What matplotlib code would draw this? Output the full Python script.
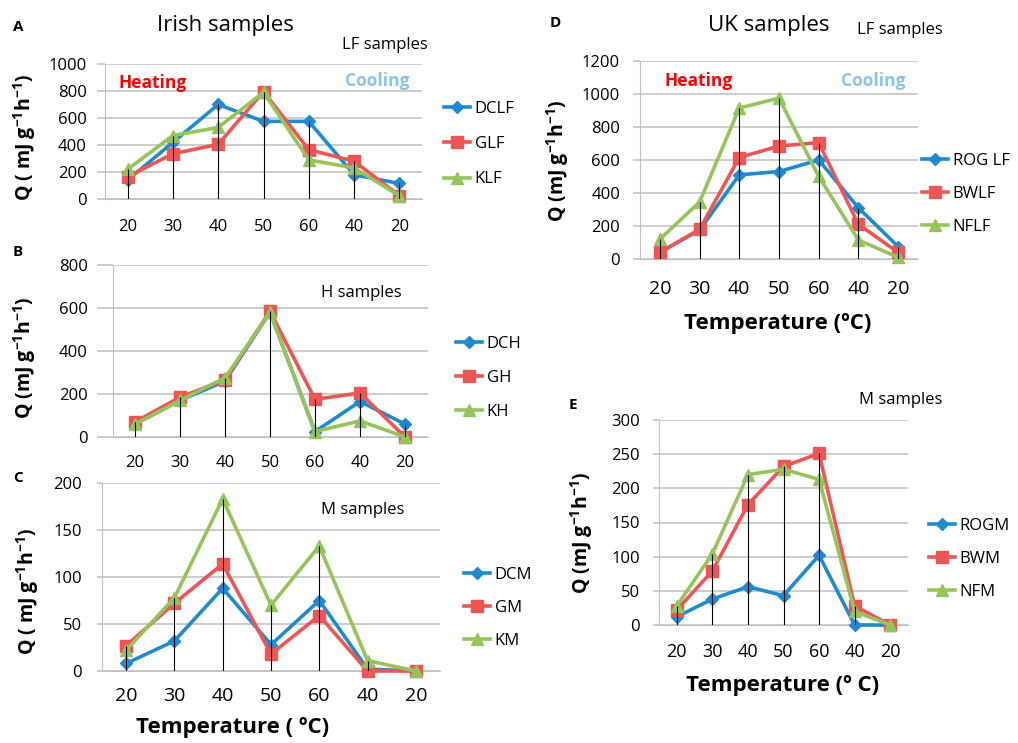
import numpy as np
import matplotlib
matplotlib.use("Agg")
import matplotlib.pyplot as plt

plt.rcParams['font.family'] = ['Open Sans', 'DejaVu Sans']
plt.rcParams['mathtext.fontset'] = 'custom'
plt.rcParams['mathtext.rm'] = 'Open Sans'
plt.rcParams['mathtext.bf'] = 'Open Sans:bold'

# x categories (heating 20->60, cooling back to 20)
temps = ['20', '30', '40', '50', '60', '40', '20']

# A: Irish LF samples
irish_lf_names = ['DCLF', 'GLF', 'KLF']
dclf = [140, 420, 700, 575, 575, 180, 115]
glf = [165, 335, 405, 795, 365, 280, 25]
klf = [220, 470, 530, 790, 290, 230, 25]

# B: Irish H samples
irish_h_names = ['DCH', 'GH', 'KH']
dch = [60, 170, 260, 580, 25, 165, 60]
gh = [70, 185, 265, 585, 175, 205, 0]
kh = [60, 170, 275, 580, 25, 75, 0]

# C: Irish M samples
irish_m_names = ['DCM', 'GM', 'KM']
dcm = [8, 32, 88, 28, 75, 2, 0]
gm = [27, 72, 114, 18, 59, 0, 0]
km = [22, 78, 183, 70, 133, 11, 0]

# D: UK LF samples
uk_lf_names = ['ROG LF', 'BWLF', 'NFLF']
rog_lf = [40, 175, 510, 530, 600, 310, 75]
bwlf = [40, 180, 615, 685, 705, 210, 40]
nflf = [120, 345, 915, 975, 500, 115, 10]

# E: UK M samples
uk_m_names = ['ROGM', 'BWM', 'NFM']
rogm = [12, 38, 56, 43, 102, 0, 0]
bwm = [22, 79, 176, 232, 251, 28, 0]
nfm = [28, 104, 220, 228, 213, 20, 0]

colors = ['#1f8bcf', '#ee5656', '#96c45a']
markers = ['D', 's', '^']
msizes = [6, 9, 9]
grid_col = '#bfbfbf'

W, H = 1018, 743
fig = plt.figure(figsize=(W / 100, H / 100), dpi=100)


def fx(x):
    return x / W


def fy(y):
    return 1 - y / H


def panel(box, series, names, ymax, ystep, tick_len, ypad, xsize, xpad,
          leg_x, leg_y, leg_space, ylabel, ylab_xy):
    x0, y0, x1, y1 = box
    ax = fig.add_axes([fx(x0), fy(y1), (x1 - x0) / W, (y1 - y0) / H])
    x = np.arange(len(temps))
    for vals, name, c, m, ms in zip(series, names, colors, markers, msizes):
        ax.plot(x, vals, color=c, lw=2.6, marker=m, ms=ms, label=name,
                zorder=3, clip_on=False)
    # drop lines from the highest point down to the axis
    top = np.max(np.array(series), axis=0)
    ax.vlines(x, 0, top, color='black', lw=0.8, zorder=5)
    ax.set_xlim(-0.5, len(temps) - 0.5)
    ax.set_ylim(0, ymax)
    ax.set_yticks(np.arange(0, ymax + 1, ystep))
    ax.set_xticks(x)
    ax.set_xticklabels(temps)
    ax.grid(axis='y', color=grid_col, lw=1.1)
    ax.set_axisbelow(True)
    for s in ['top', 'right']:
        ax.spines[s].set_visible(False)
    ax.spines['left'].set_color(grid_col)
    ax.spines['bottom'].set_color(grid_col)
    ax.tick_params(axis='y', length=tick_len * 0.72, color=grid_col,
                   width=1.1, pad=ypad * 0.72, labelsize=12)
    ax.tick_params(axis='x', length=0, pad=xpad * 0.72, labelsize=xsize)
    fs = 12
    ax.legend(loc='center left', bbox_to_anchor=(fx(leg_x), fy(leg_y)),
              bbox_transform=fig.transFigure, frameon=False, fontsize=fs,
              handlelength=1.55, handletextpad=0.3, borderpad=0,
              borderaxespad=0, labelspacing=(leg_space - fs / 0.72) / (fs / 0.72))
    ax.set_ylabel(ylabel, fontsize=14, fontweight='bold', va='center')
    ax.yaxis.set_label_coords(fx(ylab_xy[0]), fy(ylab_xy[1]),
                              transform=fig.transFigure)
    return ax


ax_a = panel((105, 64, 422, 199), [dclf, glf, klf], irish_lf_names, 1000, 200,
             8, 10, 12, 20, 444, 144, 36,
             r'Q ( mJ g$^{\mathbf{-1}}$h$^{\mathbf{-1}}$)', (25, 137))
ax_b = panel((112.5, 265, 427.5, 437), [dch, gh, kh], irish_h_names, 800, 200,
             16, 9, 12, 18, 456, 378, 35,
             r'Q (mJ g$^{\mathbf{-1}}$h$^{\mathbf{-1}}$)', (25, 358))
ax_c = panel((102, 483, 440, 671), [dcm, gm, km], irish_m_names, 200, 50,
             5, 15, 14, 16, 464, 608, 34,
             r'Q ( mJ g$^{\mathbf{-1}}$h$^{\mathbf{-1}}$)', (28, 591))
ax_d = panel((640, 61, 918, 259), [rog_lf, bwlf, nflf], uk_lf_names, 1200, 200,
             7, 13, 14, 21, 922, 194, 34,
             r'Q (mJ g$^{\mathbf{-1}}$h$^{\mathbf{-1}}$)', (558, 161))
ax_e = panel((659, 420, 908, 625), [rogm, bwm, nfm], uk_m_names, 300, 50,
             6, 13, 13, 18, 929, 559, 33.5,
             r'Q (mJ g$^{\mathbf{-1}}$h$^{\mathbf{-1}}$)', (582, 533))

ax_c.set_xlabel('Temperature ( ºC)', fontsize=16, fontweight='bold')
ax_c.xaxis.set_label_coords(fx(233), fy(728), transform=fig.transFigure)
ax_d.set_xlabel('Temperature (ºC)', fontsize=16, fontweight='bold')
ax_d.xaxis.set_label_coords(fx(778), fy(323), transform=fig.transFigure)
ax_e.set_xlabel('Temperature (º C)', fontsize=16, fontweight='bold')
ax_e.xaxis.set_label_coords(fx(783), fy(685), transform=fig.transFigure)
for a in (ax_c, ax_d, ax_e):
    a.xaxis.label.set_va('center')


def label(x, y, s, **kw):
    fig.text(fx(x), fy(y), s, ha='center', va='center', **kw)


label(225, 25, 'Irish samples', fontsize=16)
label(769, 25, 'UK samples', fontsize=16)
for x, y, s in [(18, 27, 'A'), (18, 252, 'B'), (18, 478, 'C'),
                (555, 23, 'D'), (573, 405, 'E')]:
    label(x, y, s, fontsize=11, fontweight='bold')
label(385, 45, 'LF samples', fontsize=12)
label(900, 30, 'LF samples', fontsize=12)
label(361, 293, 'H samples', fontsize=12)
label(363, 510, 'M samples', fontsize=12)
label(901, 400, 'M samples', fontsize=12)
label(153, 83, 'Heating', fontsize=12.5, fontweight='bold', color='#ff0000')
label(377, 81, 'Cooling', fontsize=12.5, fontweight='bold', color='#8dc3ea')
label(699, 81, 'Heating', fontsize=12.5, fontweight='bold', color='#ff0000')
label(873, 81, 'Cooling', fontsize=12.5, fontweight='bold', color='#8dc3ea')

fig.savefig('out.png', dpi=100)
